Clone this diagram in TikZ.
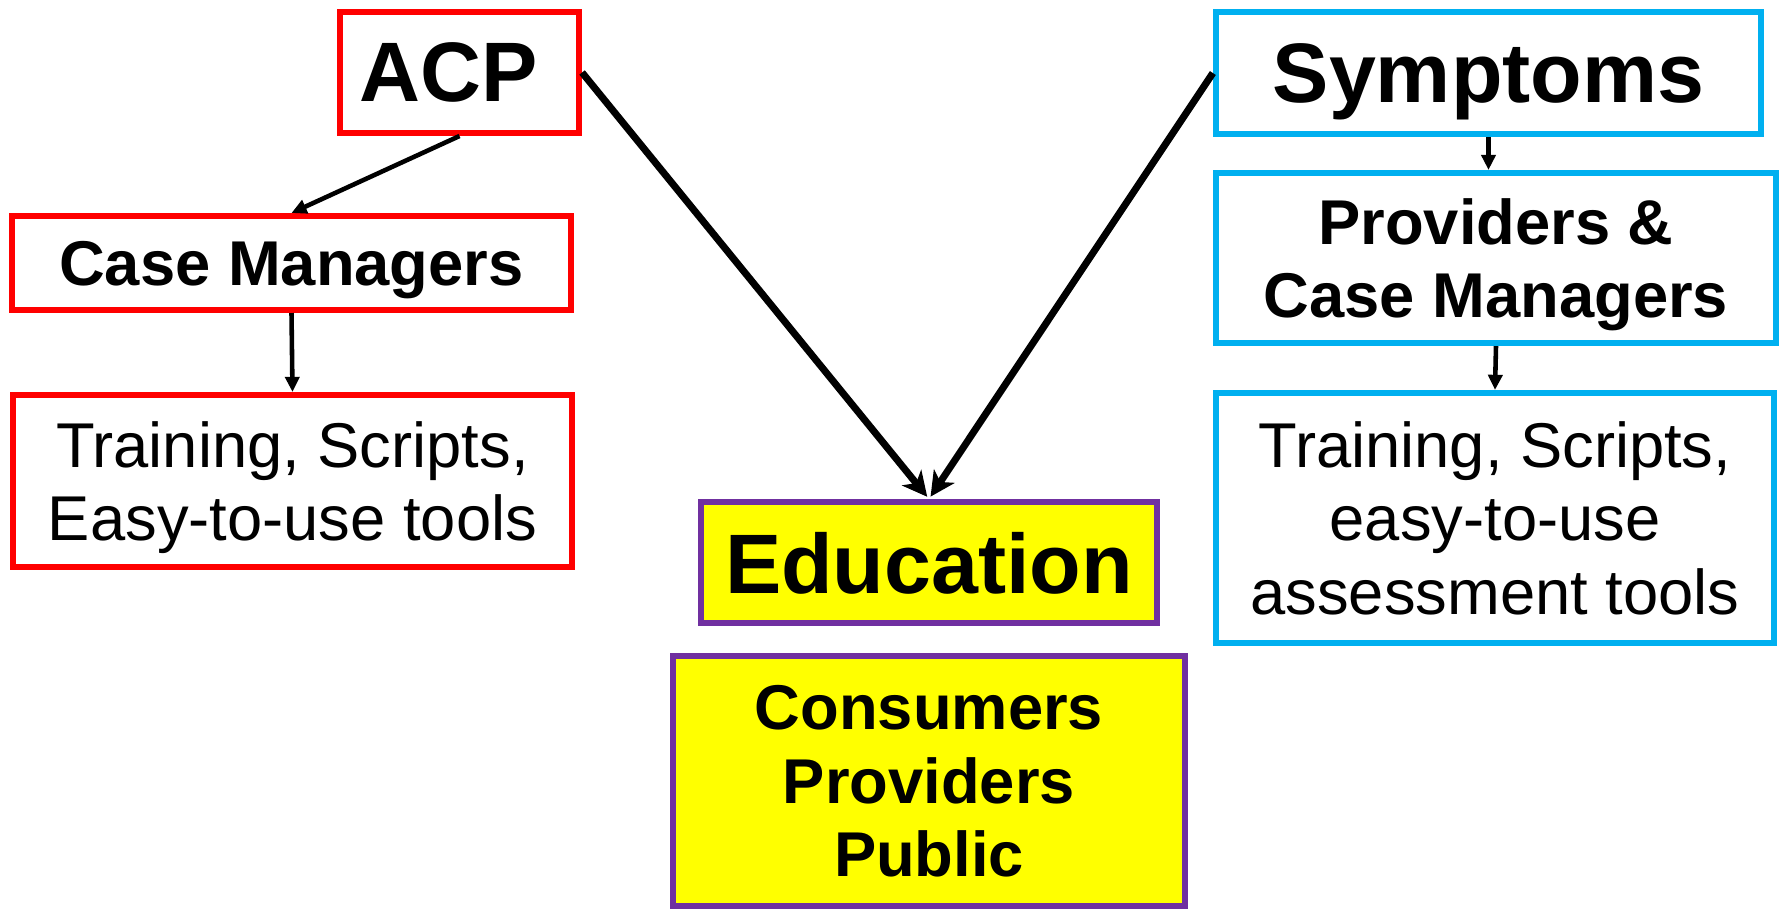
\documentclass[tikz,border=0pt]{standalone}
\usepackage{fontspec}
\setmainfont{Liberation Sans}
\usetikzlibrary{arrows.meta}
\definecolor{acpred}{HTML}{FF0000}
\definecolor{symblue}{HTML}{00B0F0}
\definecolor{edupurple}{HTML}{7030A0}
\definecolor{eduyellow}{HTML}{FFFF00}
\tikzset{
	box/.style={draw,rectangle,align=center,line width=1.7pt,inner sep=0pt,text depth=0pt},
	redbox/.style={box,draw=acpred},
	bluebox/.style={box,draw=symblue},
	edubox/.style={box,draw=edupurple,fill=eduyellow},
	headfont/.style={font=\fontsize{24}{28}\selectfont\bfseries},
	boldfont/.style={font=\fontsize{18}{21}\selectfont\bfseries},
	lightfont/.style={font=\fontsize{18}{21}\selectfont},
	-tri/.style={-{Triangle[length=4.3pt,width=4pt]},line width=1.3pt},
	-st/.style={-{Stealth[length=7pt,width=7pt,inset=2pt]},line width=2pt,shorten >=0.8pt}
}
\begin{document}
\begin{tikzpicture}[x=0.01cm,y=-0.01cm]
            \useasboundingbox (0,0) rectangle (1781,909);
            % ACP side
            \node[redbox,headfont,minimum width=2.39cm,minimum height=1.21cm] (acp) at (459.5,72.5) {ACP\kern6pt};
            \node[redbox,boldfont,minimum width=5.59cm,minimum height=0.94cm] (cm) at (291.5,263) {Case Managers};
            \node[redbox,lightfont,minimum width=5.59cm,minimum height=1.72cm] (ltrain) at (292.5,481) {Training, Scripts,\\Easy-to-use tools};
            % symptoms side
            \node[bluebox,headfont,minimum width=5.45cm,minimum height=1.22cm] (sym) at (1488.5,73) {Symptoms};
            \node[bluebox,boldfont,minimum width=5.60cm,minimum height=1.70cm] (prov) at (1496,258) {Providers \&\\Case Managers};
            \node[bluebox,lightfont,minimum width=5.58cm,minimum height=2.50cm] (rtrain) at (1495,518) {Training, Scripts,\\easy-to-use\\assessment tools};
            % education
            \node[edubox,headfont,minimum width=4.56cm,minimum height=1.21cm] (edu) at (929,562.5) {Education};
            \node[edubox,boldfont,minimum width=5.12cm,minimum height=2.50cm] (pub) at (929,781) {Consumers\\Providers\\Public};
            \draw[-st] (acp.east) -- (edu.north);
            \draw[-st] (sym.west) -- (edu.north);
            \draw[-tri] (acp.south) -- (cm.north);
            \draw[-tri] (cm.south) -- (ltrain.north);
            \draw[-tri] (sym.south) -- (sym.south |- prov.north);
            \draw[-tri] (prov.south) -- (rtrain.north);
        \end{tikzpicture}
\end{document}
